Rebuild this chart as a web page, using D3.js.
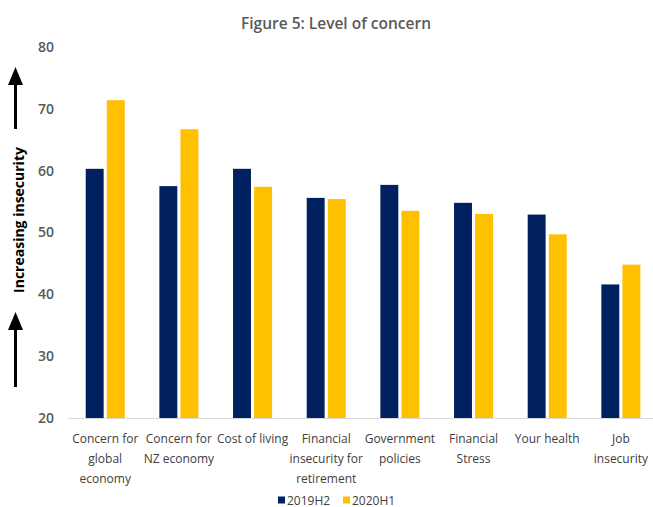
<!DOCTYPE html>
<html>
<head>
<meta charset="utf-8">
<script src="https://cdn.jsdelivr.net/npm/d3@7"></script>
<style>
  html, body { margin: 0; padding: 0; background: #fff; }
  svg { display: block; font-family: "Open Sans", sans-serif; }
</style>
</head>
<body>
<svg id="chart" width="653" height="507"></svg>
<script>
// Survey measures, each label split into its display lines
const categories = [
  ["Concern for", "global", "economy"],
  ["Concern for", "NZ economy"],
  ["Cost of living"],
  ["Financial", "insecurity for", "retirement"],
  ["Government", "policies"],
  ["Financial", "Stress"],
  ["Your health"],
  ["Job", "insecurity"]
];
const seriesNames = ["2019H2", "2020H1"];
const values2019H2 = [60.3, 57.5, 60.3, 55.6, 57.7, 54.8, 52.9, 41.6];
const values2020H1 = [71.4, 66.7, 57.4, 55.4, 53.5, 53.0, 49.7, 44.8];
const yTicks = [20, 30, 40, 50, 60, 70, 80];

const colors = { "2019H2": "#002060", "2020H1": "#FFC000" };
const series = { "2019H2": values2019H2, "2020H1": values2020H1 };

const svg = d3.select("#chart");
const catKeys = categories.map((c, i) => i);

const x0 = d3.scaleBand()
  .domain(catKeys)
  .range([68.4, 657.7])
  .paddingInner(0.47)
  .paddingOuter(0.235);

const x1 = d3.scaleBand()
  .domain(seriesNames)
  .range([0, x0.bandwidth()])
  .paddingInner(0.15);

const y = d3.scaleLinear().domain([20, 80]).range([418, 47]);

// Title
svg.append("text")
  .attr("x", 336).attr("y", 29)
  .attr("text-anchor", "middle")
  .attr("font-size", 15.5).attr("font-weight", 600)
  .attr("fill", "#595959")
  .text("Figure 5: Level of concern");

// Y axis tick labels (no line, no tick marks)
const yAxis = d3.axisLeft(y).tickValues(yTicks).tickSize(0).tickPadding(0);
const gy = svg.append("g").attr("transform", "translate(54,0)").call(yAxis);
gy.select(".domain").remove();
gy.selectAll("text")
  .attr("font-family", "Open Sans, sans-serif")
  .attr("font-size", 14).attr("font-weight", 600)
  .attr("fill", "#595959");

// Bars
const groups = svg.append("g").selectAll("g")
  .data(catKeys).join("g")
  .attr("transform", i => `translate(${x0(i)},0)`);

groups.selectAll("rect")
  .data(i => seriesNames.map(k => ({ key: k, value: series[k][i] })))
  .join("rect")
  .attr("x", d => x1(d.key))
  .attr("width", x1.bandwidth())
  .attr("y", d => y(d.value))
  .attr("height", d => y(20) - y(d.value))
  .attr("fill", d => colors[d.key]);

// Category axis line
svg.append("line")
  .attr("x1", 68.4).attr("x2", 653)
  .attr("y1", y(20) + 0.5).attr("y2", y(20) + 0.5)
  .attr("stroke", "#d9d9d9").attr("stroke-width", 1);

// Category labels
const xLabels = svg.append("g").selectAll("text")
  .data(catKeys).join("text")
  .attr("text-anchor", "middle")
  .attr("font-size", 12)
  .attr("fill", "#404040")
  .attr("transform", i => `translate(${x0(i) + x0.bandwidth() / 2},443)`);
xLabels.selectAll("tspan")
  .data(i => categories[i]).join("tspan")
  .attr("x", 0)
  .attr("dy", (d, j) => j === 0 ? 0 : 20)
  .text(d => d);

// Y axis title with arrows
svg.append("text")
  .attr("transform", "translate(24,220) rotate(-90)")
  .attr("text-anchor", "middle")
  .attr("font-size", 14).attr("font-weight", 700)
  .attr("fill", "#000")
  .text("Increasing insecurity");

function arrow(tipY, endY) {
  const cx = 15.5;
  svg.append("line")
    .attr("x1", cx).attr("x2", cx)
    .attr("y1", tipY + 14).attr("y2", endY)
    .attr("stroke", "#000").attr("stroke-width", 3);
  svg.append("path")
    .attr("d", `M${cx},${tipY} L${cx + 7.5},${tipY + 18} L${cx - 7.5},${tipY + 18} Z`)
    .attr("fill", "#000");
}
arrow(67, 129);
arrow(312, 387);

// Legend
const legend = svg.append("g").attr("transform", "translate(278,500)");
const legendX = [0, 65];
seriesNames.forEach((k, i) => {
  const g = legend.append("g").attr("transform", `translate(${legendX[i]},0)`);
  g.append("rect").attr("x", 0).attr("y", -3.5).attr("width", 7).attr("height", 7).attr("fill", colors[k]);
  g.append("text").attr("x", 9).attr("y", 4.5)
    .attr("font-size", 12).attr("fill", "#404040").text(k);
});
</script>
</body>
</html>
